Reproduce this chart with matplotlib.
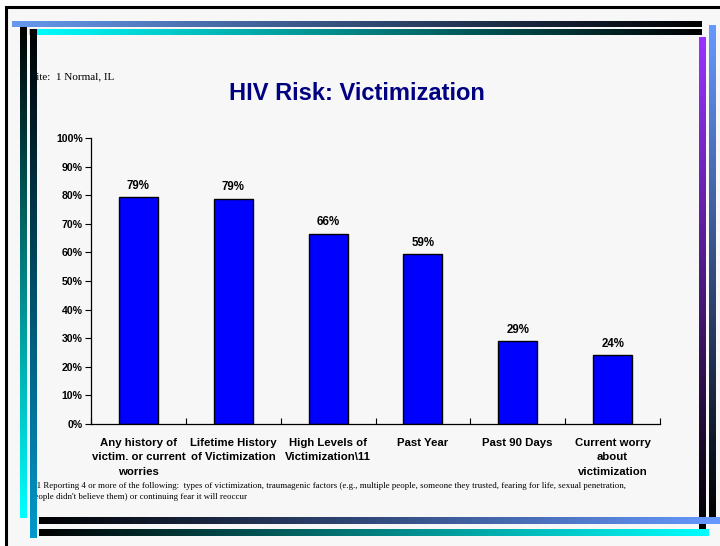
import numpy as np
import matplotlib.pyplot as plt
from matplotlib.patches import Rectangle

categories = ['Any history of\nvictim. or current\nworries', 'Lifetime History\nof Victimization',
              'High Levels of\nVictimization\\11', 'Past Year', 'Past 90 Days',
              'Current worry\nabout\nvictimization']
values = [79.3, 78.8, 66.6, 59.3, 29.0, 24.1]
value_labels = ['79%', '79%', '66%', '59%', '29%', '24%']
yticks = [0, 10, 20, 30, 40, 50, 60, 70, 80, 90, 100]

title = 'HIV Risk: Victimization'
site = 'Site:  1 Normal, IL'
footnote = ('\\11 Reporting 4 or more of the following:  types of victimization, traumagenic factors '
            '(e.g., multiple people, someone they trusted, fearing for life, sexual penetration,\n'
            'people didn\'t believe them) or continuing fear it will reoccur')

W, H = 720, 546
fig = plt.figure(figsize=(W / 100, H / 100), dpi=100)
fig.patch.set_facecolor('white')

# slide background + decoration, in pixel coords
bg = fig.add_axes([0, 0, 1, 1])
bg.set_xlim(0, W)
bg.set_ylim(H, 0)
bg.axis('off')
bg.add_patch(Rectangle((6, 7), 730, 560, facecolor='#f7f7f7', edgecolor='black', lw=2.2, zorder=0))


def grad_bar(x0, x1, y0, y1, c_start, c_end, horizontal=True):
    c0 = np.array(plt.matplotlib.colors.to_rgb(c_start))
    c1 = np.array(plt.matplotlib.colors.to_rgb(c_end))
    t = np.linspace(0, 1, 256)
    img = c0[None, :] * (1 - t[:, None]) + c1[None, :] * t[:, None]
    if horizontal:
        img = img[None, :, :]
    else:
        img = img[:, None, :]
    bg.imshow(img, extent=(x0, x1, y1, y0), aspect='auto', zorder=3, interpolation='bilinear')


grad_bar(12, 702, 21, 27, '#6699ee', '#000000')
grad_bar(29, 702, 29, 35, '#00ffff', '#000000')
grad_bar(20, 27, 27, 518, '#000000', '#00ffff', horizontal=False)
grad_bar(30, 37, 29, 538, '#000000', '#0099cc', horizontal=False)
grad_bar(699, 706, 37, 529, '#9933ff', '#000000', horizontal=False)
grad_bar(709, 716, 25, 517, '#6699ff', '#000000', horizontal=False)
grad_bar(39, 720, 517, 524, '#000000', '#6699ff')
grad_bar(39, 709, 529, 536, '#000000', '#00ffff')

bg.text(30, 79, site, fontsize=8, family='Liberation Serif', va='baseline', zorder=1)
bg.text(357, 93, title, fontsize=17, fontweight='bold', color='#000080',
        family='Liberation Sans', ha='center', va='center', zorder=1)
bg.text(30, 482, footnote, fontsize=6.4, family='Liberation Serif', va='top',
        linespacing=1.45, zorder=1)

# chart
ax = fig.add_axes([91 / W, 1 - 424 / H, 569 / W, 286 / H])
ax.patch.set_alpha(0)
x = np.arange(len(categories))
ax.bar(x, values, width=0.41, color='#0000ff', edgecolor='black', linewidth=1, zorder=2)
for xi, v, lab in zip(x, values, value_labels):
    ax.annotate(lab, (xi, v), xytext=(0, 4), textcoords='offset points', ha='center', va='bottom',
                fontsize=8.3, fontweight='bold', family='Liberation Sans')

ax.set_xlim(-0.5, len(categories) - 0.5)
ax.set_ylim(0, 100)
ax.set_yticks(yticks)
ax.set_yticklabels([f'{t}%' for t in yticks], fontsize=7.6, fontweight='bold', family='Liberation Sans')
ax.set_xticks(x)
ax.set_xticklabels(categories, fontsize=8.2, fontweight='bold', family='Liberation Sans', linespacing=1.55)
ax.set_xticks(np.arange(-0.5, len(categories)), minor=True)
ax.tick_params(axis='x', which='major', length=0, pad=10)
ax.tick_params(axis='x', which='minor', direction='in', length=4, width=0.8)
ax.tick_params(axis='y', direction='out', length=4, width=0.8, pad=2)
for s in ['top', 'right']:
    ax.spines[s].set_visible(False)
for s in ['left', 'bottom']:
    ax.spines[s].set_linewidth(0.9)

fig.savefig('out.png', dpi=100)
